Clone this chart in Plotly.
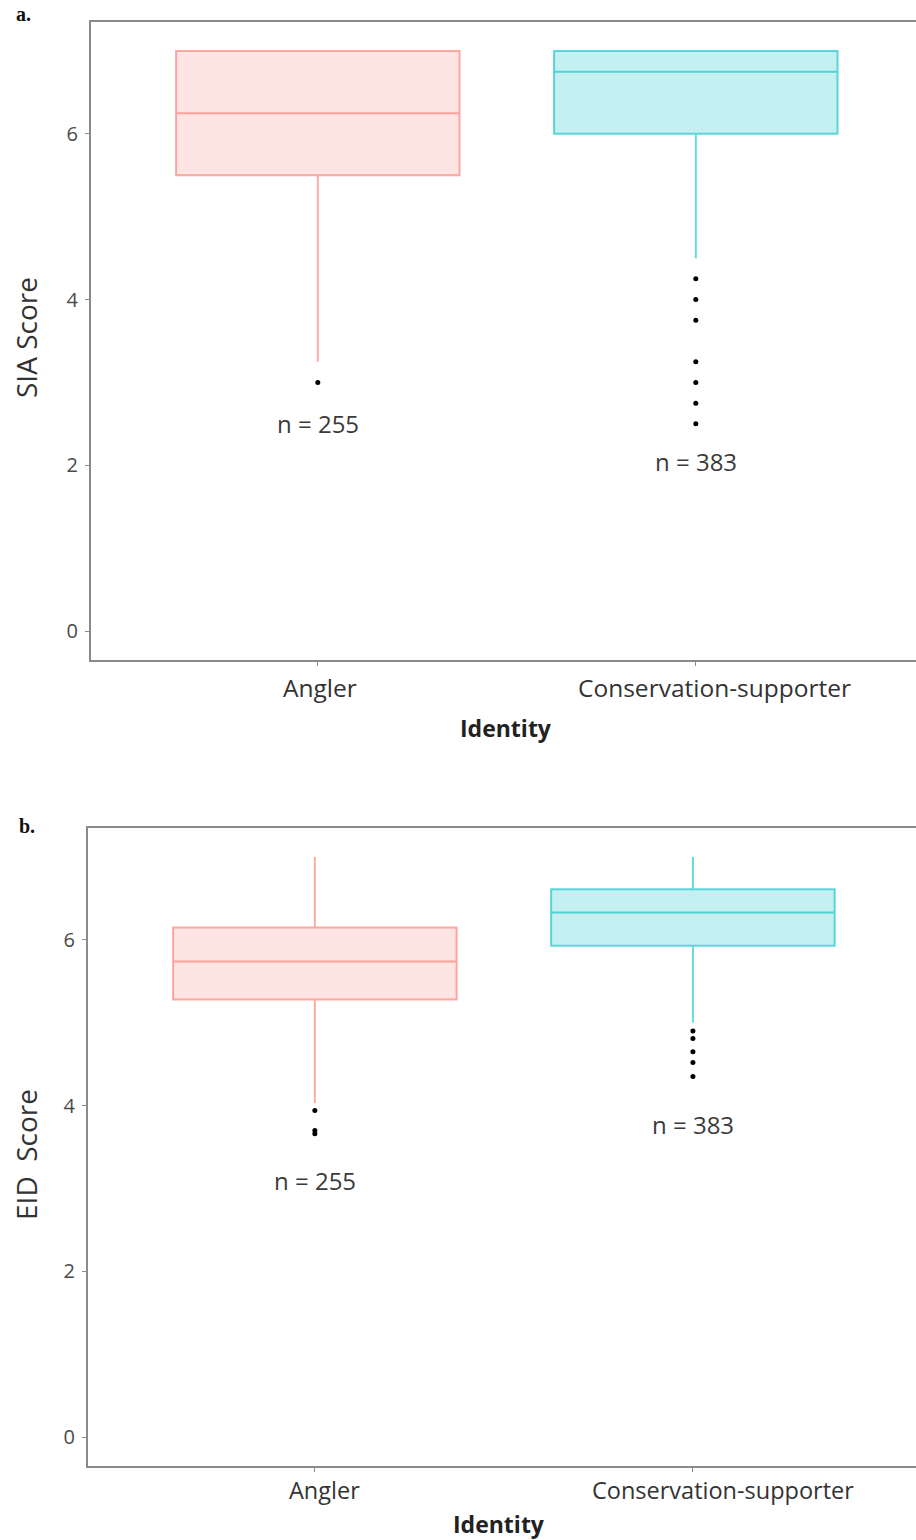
import plotly.graph_objects as go

# ---- data -------------------------------------------------------------
identities = ["Angler", "Conservation-supporter"]
sample_sizes = ["n = 255", "n = 383"]

# Panel a: SIA score box statistics
sia_q1 = [5.5, 6.0]
sia_median = [6.25, 6.75]
sia_q3 = [7.0, 7.0]
sia_lower = [3.25, 4.5]
sia_upper = [7.0, 7.0]
sia_outliers_angler = [3.0]
sia_outliers_cons = [4.25, 4.0, 3.75, 3.25, 3.0, 2.75, 2.5]
sia_n_label_y = [2.5, 2.05]

# Panel b: EID score box statistics
eid_q1 = [5.28, 5.93]
eid_median = [5.74, 6.33]
eid_q3 = [6.15, 6.61]
eid_lower = [4.03, 5.0]
eid_upper = [7.0, 7.0]
eid_outliers_angler = [3.94, 3.7, 3.66]
eid_outliers_cons = [4.9, 4.81, 4.65, 4.52, 4.35]
eid_n_label_y = [3.1, 3.77]

y_ticks = [0, 2, 4, 6]

# ---- styling ----------------------------------------------------------
W, H = 916, 1540
line_cols = ["rgba(248,118,109,0.6)", "rgba(0,191,196,0.6)"]
fill_cols = ["rgba(248,118,109,0.2)", "rgba(0,191,196,0.23)"]
axis_col = "#8a8a8a"
font_fam = "Open Sans"


def px_x(p):
    return p / W


def px_y(p):
    return 1 - p / H


fig = go.Figure()

panels = [
    dict(xa="x", ya="y", q1=sia_q1, med=sia_median, q3=sia_q3, lo=sia_lower,
         hi=sia_upper, out=[sia_outliers_angler, sia_outliers_cons],
         ny=sia_n_label_y, cat_x=[320, 714], cat_y=688, cat_size=24.5),
    dict(xa="x2", ya="y2", q1=eid_q1, med=eid_median, q3=eid_q3, lo=eid_lower,
         hi=eid_upper, out=[eid_outliers_angler, eid_outliers_cons],
         ny=eid_n_label_y, cat_x=[324, 723], cat_y=1490, cat_size=23.5),
]

for p in panels:
    for i, name in enumerate(identities):
        fig.add_trace(go.Box(
            x=[name], q1=[p["q1"][i]], median=[p["med"][i]], q3=[p["q3"][i]],
            lowerfence=[p["lo"][i]], upperfence=[p["hi"][i]],
            width=0.75, whiskerwidth=0,
            line=dict(color=line_cols[i], width=2),
            fillcolor=fill_cols[i], boxpoints=False,
            xaxis=p["xa"], yaxis=p["ya"], showlegend=False, hoverinfo="skip",
        ))
        fig.add_trace(go.Scatter(
            x=[name] * len(p["out"][i]), y=p["out"][i], mode="markers",
            marker=dict(color="black", size=5),
            xaxis=p["xa"], yaxis=p["ya"], showlegend=False, hoverinfo="skip",
        ))
        fig.add_annotation(
            x=name, y=p["ny"][i], xref=p["xa"], yref=p["ya"],
            text=sample_sizes[i], showarrow=False,
            font=dict(family=font_fam, size=24, color="#3a3a3a"),
        )
        # category label under the axis
        fig.add_annotation(
            x=px_x(p["cat_x"][i]), y=px_y(p["cat_y"]),
            xref="paper", yref="paper", text=name, showarrow=False,
            xanchor="center", yanchor="middle",
            font=dict(family=font_fam, size=p["cat_size"], color="#333333"),
        )

common_x = dict(
    type="category", categoryorder="array", categoryarray=identities,
    showline=True, linecolor=axis_col, linewidth=2, mirror=True,
    ticks="outside", ticklen=4, tickcolor=axis_col, tickwidth=1,
    showticklabels=False, showgrid=False, zeroline=False,
)
common_y = dict(
    range=[-0.35, 7.35], tickvals=y_ticks, showline=True, linecolor=axis_col,
    linewidth=2, mirror=False, ticks="outside", ticklen=4, tickcolor=axis_col,
    tickwidth=1, tickfont=dict(family=font_fam, size=20, color="#4a4a4a"),
    ticklabelstandoff=3, showgrid=False, zeroline=False,
)

fig.update_layout(
    width=W, height=H, margin=dict(l=0, r=0, t=0, b=0),
    paper_bgcolor="white", plot_bgcolor="white", showlegend=False,
    xaxis=dict(common_x, domain=[px_x(91), 1], range=[-0.6, 1.5825],
               anchor="y"),
    yaxis=dict(common_y, domain=[px_y(660), px_y(22)], anchor="x"),
    xaxis2=dict(common_x, domain=[px_x(88), 1], range=[-0.6, 1.59],
                anchor="y2"),
    yaxis2=dict(common_y, domain=[px_y(1466), px_y(828)], anchor="x2"),
)

# axis titles and panel letters
titles = [
    ("SIA Score", 26, 338, -90, False),
    ("EID  Score", 26, 1155, -90, False),
    ("Identity", 506, 728, 0, True),
    ("Identity", 499, 1524, 0, True),
]
for text, xp, yp, ang, bold in titles:
    fig.add_annotation(
        x=px_x(xp), y=px_y(yp), xref="paper", yref="paper",
        text=f"<b>{text}</b>" if bold else text, textangle=ang,
        showarrow=False, xanchor="center", yanchor="middle",
        font=dict(family=font_fam, size=23 if bold else 28,
                  color="#222222" if bold else "#333333"),
    )

for letter, xp, yp in [("a.", 23, 14), ("b.", 27, 826)]:
    fig.add_annotation(
        x=px_x(xp), y=px_y(yp), xref="paper", yref="paper",
        text=f"<b>{letter}</b>", showarrow=False,
        xanchor="center", yanchor="middle",
        font=dict(family="Liberation Serif", size=20, color="#111111"),
    )

fig.write_html("out.html")
